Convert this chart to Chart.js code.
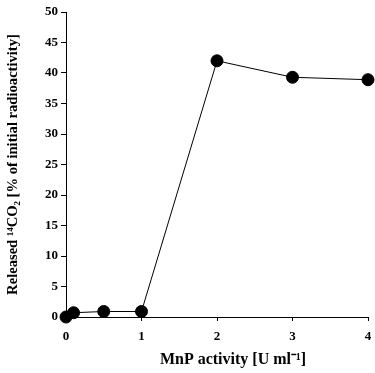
<!DOCTYPE html>
<html><head><meta charset="utf-8">
<script src="https://cdn.jsdelivr.net/npm/chart.js@4"></script>
<style>html,body{margin:0;padding:0;background:#fff}#wrap{width:375px;height:373px}</style>
</head><body><div id="wrap"><canvas id="c" width="375" height="373"></canvas></div>
<script>
const activity = [0, 0.1, 0.5, 1, 2, 3, 4];
const released = [0, 0.7, 0.9, 0.9, 42, 39.3, 38.9];
const xTicks = [0, 1, 2, 3, 4];
const yTicks = [0, 5, 10, 15, 20, 25, 30, 35, 40, 45, 50];
const xTitle = 'MnP activity [U ml\u207B\u00B9]';
const yTitle = 'Released \u00B9\u2074CO\u2082 [% of initial radioactivity]';

const font = {family: '"Liberation Serif", "Times New Roman", serif', weight: 'bold', size: 13};
new Chart(document.getElementById('c'), {
  type: 'scatter',
  data: {datasets: [{
    data: activity.map((x, i) => ({x: x, y: released[i]})),
    showLine: true, borderColor: '#000', borderWidth: 1,
    backgroundColor: '#000', pointRadius: 6, pointHoverRadius: 6,
    clip: false
  }]},
  options: {
    responsive: false, animation: false,
    layout: {padding: {top: 12, right: 0, left: 0, bottom: 0}},
    plugins: {legend: {display: false}, tooltip: {enabled: false}},
    scales: {
      x: {
        type: 'linear', min: 0, max: 4,
        afterBuildTicks: s => { s.ticks = xTicks.map(v => ({value: v})); },
        afterFit: s => { s.height = 56; s.paddingRight = 3; },
        grid: {drawOnChartArea: false, drawTicks: true, tickLength: 4, color: '#000'},
        border: {color: '#000', width: 1},
        ticks: {color: '#000', font: font, padding: 8},
        title: {display: true, text: '\u2003\u2003' + xTitle, color: '#000', font: {family: font.family, weight: 'bold', size: 16}, padding: {top: 2}}
      },
      y: {
        type: 'linear', min: 0, max: 50,
        afterBuildTicks: s => { s.ticks = yTicks.map(v => ({value: v})); },
        afterFit: s => { s.width = 66; },
        grid: {drawOnChartArea: false, drawTicks: true, tickLength: 5, color: '#000'},
        border: {color: '#000', width: 1},
        ticks: {color: '#000', font: font, padding: 3},
        title: {display: true, text: yTitle, color: '#000', font: {family: font.family, weight: 'bold', size: 14.6}, padding: {bottom: 1}}
      }
    }
  }
});
</script></body></html>
